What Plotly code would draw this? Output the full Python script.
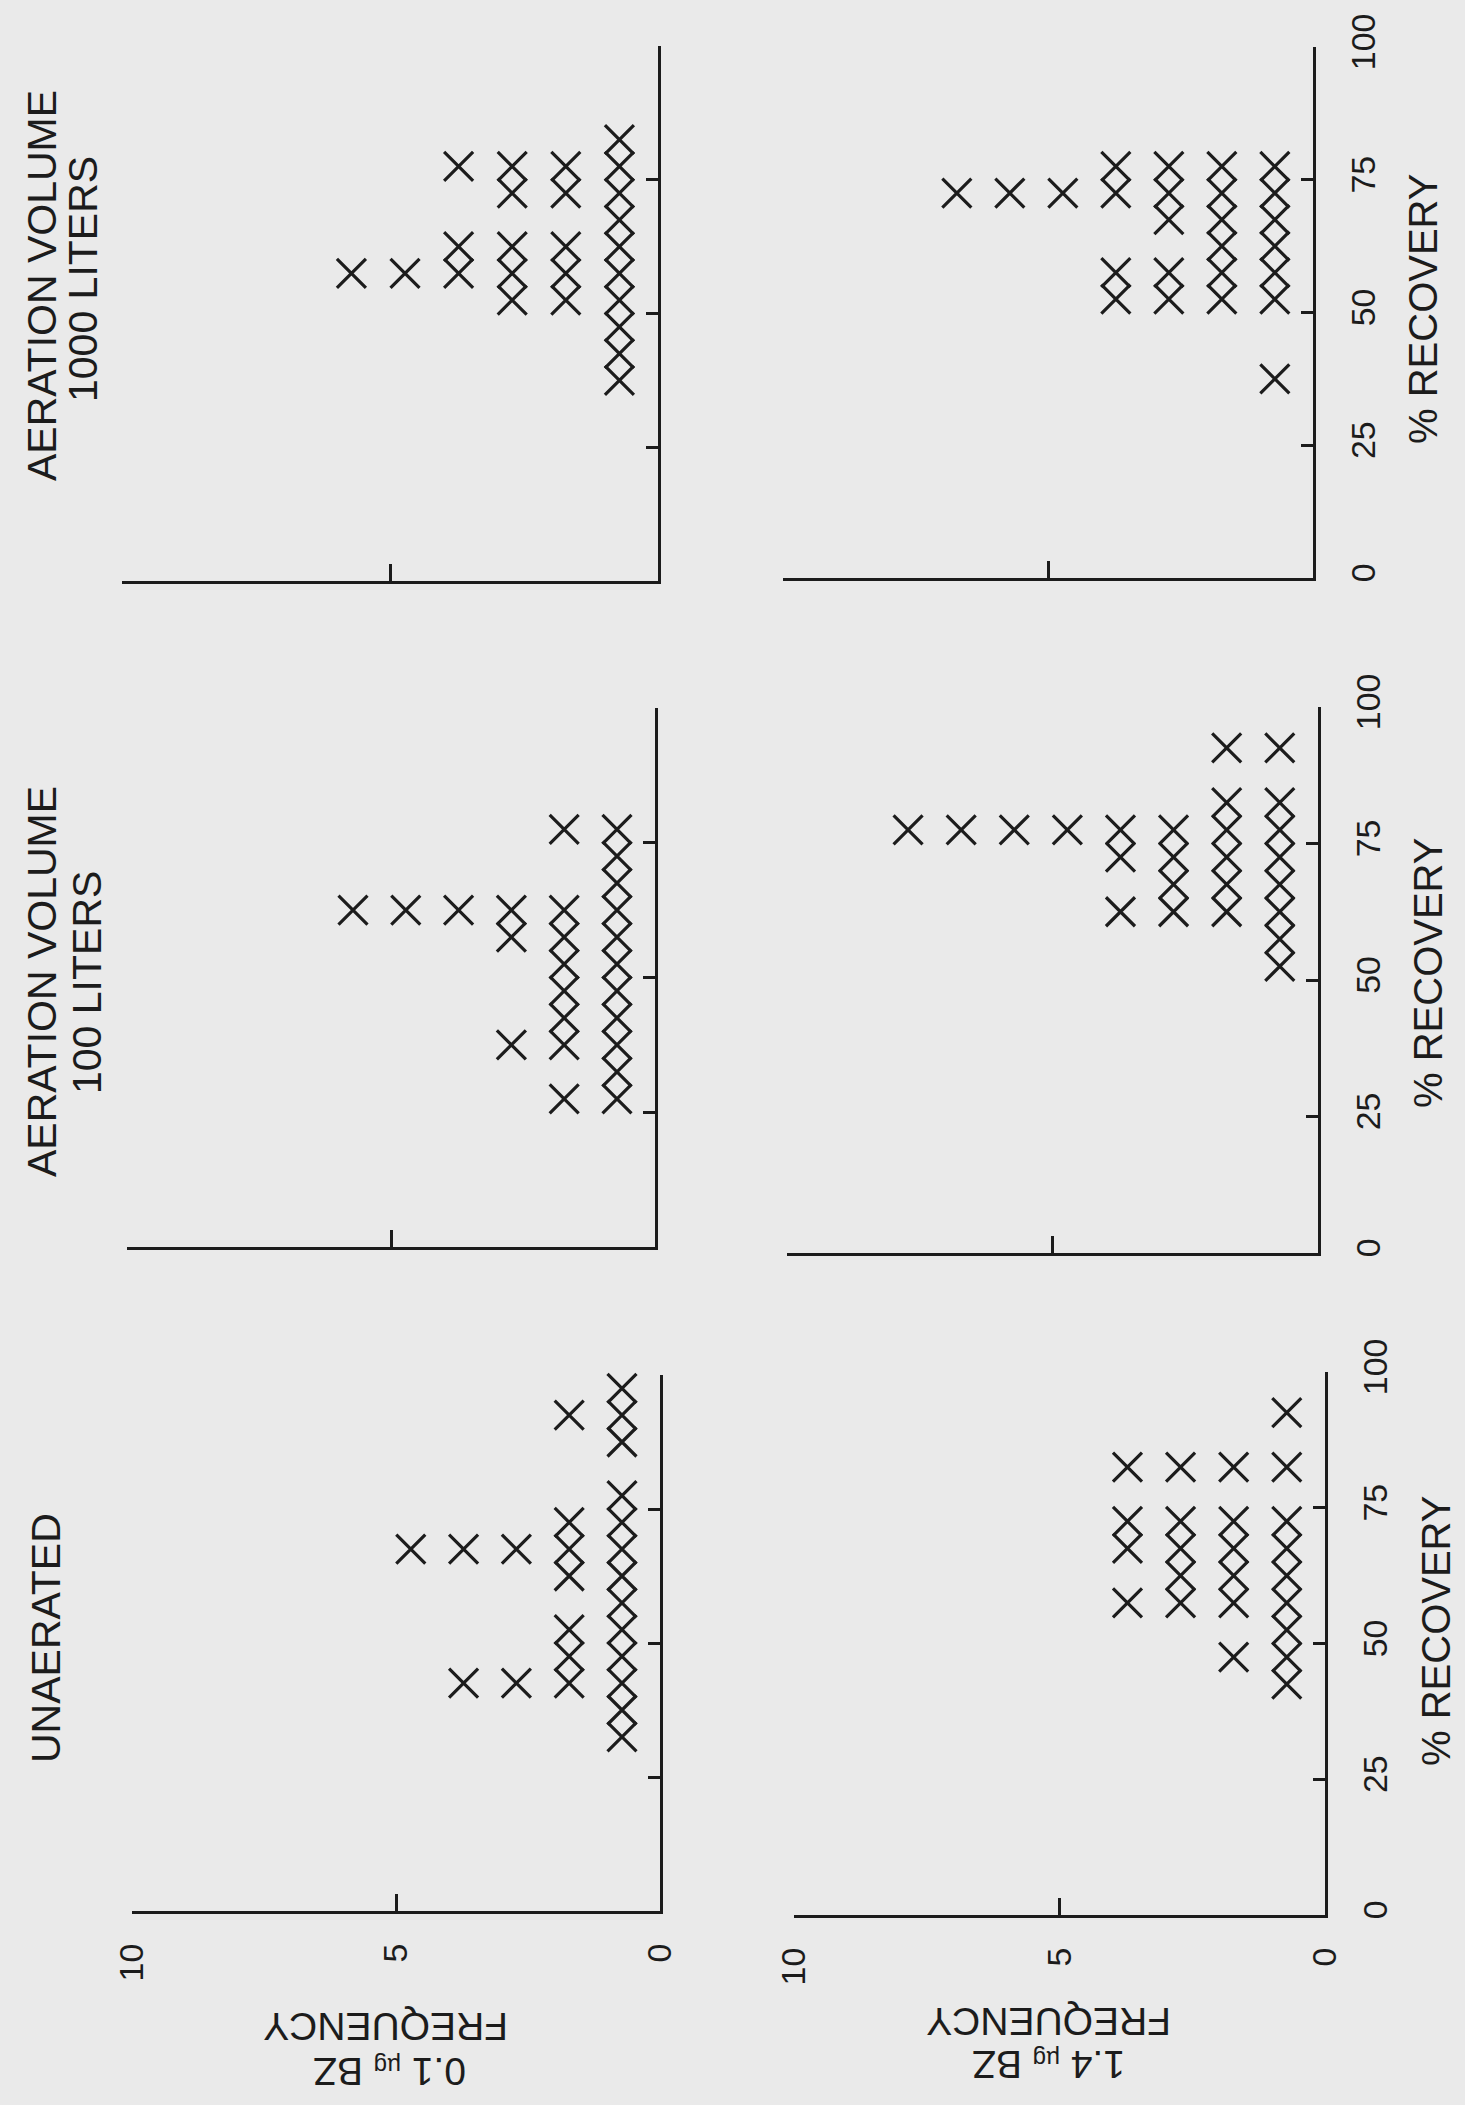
import plotly.graph_objects as go

# ---- data ----
recovery_bins = [27.5, 32.5, 37.5, 42.5, 47.5, 52.5, 57.5, 62.5, 67.5, 72.5, 77.5, 82.5, 87.5, 92.5, 97.5]
unaerated_01 = [0, 1, 1, 4, 2, 2, 1, 2, 5, 2, 1, 0, 1, 2, 1]
unaerated_14 = [0, 0, 0, 1, 2, 1, 4, 3, 4, 4, 0, 4, 0, 1, 0]
aer100_01 = [2, 1, 3, 2, 2, 2, 3, 6, 1, 1, 2, 0, 0, 0, 0]
aer100_14 = [0, 0, 0, 0, 0, 1, 1, 4, 3, 4, 8, 2, 0, 2, 0]
aer1000_01 = [0, 0, 1, 1, 1, 3, 6, 4, 1, 3, 4, 1, 0, 0, 0]
aer1000_14 = [0, 0, 1, 0, 0, 4, 4, 2, 3, 7, 4, 0, 0, 0, 0]

freq_ticks = [0, 5, 10]
recovery_ticks = [0, 25, 50, 75, 100]
row_titles = [["AERATION VOLUME", "1000 LITERS"], ["AERATION VOLUME", "100 LITERS"], ["UNAERATED"]]
x_title = "% RECOVERY"
freq_title = "FREQUENCY"
dose_labels = ["0.1", "1.4"]

W, H = 1465, 2105
INK = "#1c1c1c"
BG = "#eaeaea"
FONT = "Liberation Sans, Arial, sans-serif"

# panels: (counts, x-domain px, y-domain px (top,bottom), show freq labels, show recovery labels)
panels = [
    (aer1000_01, (122, 658), (46, 581), False, False),
    (aer1000_14, (783, 1313), (47, 578), False, True),
    (aer100_01, (127, 655), (708, 1247), False, False),
    (aer100_14, (787, 1318), (707, 1253), False, True),
    (unaerated_01, (132, 660), (1375, 1911), True, False),
    (unaerated_14, (794, 1325), (1372, 1915), True, True),
]

fig = go.Figure()
layout = {}
for i, (counts, (x0, x1), (yt, yb), showx, showy) in enumerate(panels, start=1):
    xs, ys = [], []
    for b, c in zip(recovery_bins, counts):
        for k in range(1, c + 1):
            xs.append(k - 0.28)
            ys.append(b)
    sfx = "" if i == 1 else str(i)
    fig.add_trace(go.Scatter(
        x=xs, y=ys, mode="markers", xaxis="x" + sfx, yaxis="y" + sfx,
        marker=dict(symbol="x-thin", size=29, color=INK, line=dict(color=INK, width=3.2)),
        showlegend=False, hoverinfo="skip", cliponaxis=False,
    ))
    layout["xaxis" + sfx] = dict(
        domain=[x0 / W, x1 / W], anchor="y" + sfx, range=[10, 0], side="bottom",
        tickvals=freq_ticks, ticktext=[str(v) for v in freq_ticks],
        ticks="inside", ticklen=17, tickwidth=3, tickcolor=INK,
        showline=True, linewidth=3, linecolor=INK, showgrid=False, zeroline=False,
        showticklabels=showx, tickangle=-90, ticklabelstandoff=16, automargin=False,
        tickfont=dict(family=FONT, size=34, color=INK), fixedrange=True,
    )
    layout["yaxis" + sfx] = dict(
        domain=[1 - yb / H, 1 - yt / H], anchor="x" + sfx, range=[0, 100], side="right",
        tickvals=recovery_ticks, ticktext=[str(v) for v in recovery_ticks],
        ticks="inside", ticklen=12, tickwidth=3, tickcolor=INK,
        showline=True, linewidth=3, linecolor=INK, showgrid=False, zeroline=False,
        showticklabels=showy, tickangle=-90, ticklabelstandoff=18, automargin=False,
        tickfont=dict(family=FONT, size=34, color=INK), fixedrange=True,
    )

ann = []
def add_text(text, x, y, angle, size):
    ann.append(dict(text=text, x=x / W, y=1 - y / H, xref="paper", yref="paper",
                    xanchor="center", yanchor="middle", showarrow=False, textangle=angle,
                    font=dict(family=FONT, size=size, color=INK)))

# row titles (left strip, rotated)
add_text(row_titles[0][0], 42, 286, -90, 41)
add_text(row_titles[0][1], 83, 279, -90, 41)
add_text(row_titles[1][0], 42, 982, -90, 41)
add_text(row_titles[1][1], 87, 983, -90, 41)
add_text(row_titles[2][0], 46, 1638, -90, 41)

# % RECOVERY labels (right strip)
add_text(x_title, 1423, 309, -90, 40)
add_text(x_title, 1428, 973, -90, 40)
add_text(x_title, 1436, 1631, -90, 40)

# frequency titles (upside down, bottom strip)
add_text(freq_title, 386, 2027, 180, 39)
add_text(dose_labels[0] + ' <span style="font-size:24px">µg</span> BZ', 390, 2072, 180, 39)
add_text(freq_title, 1049, 2022, 180, 39)
add_text(dose_labels[1] + ' <span style="font-size:24px">µg</span> BZ', 1049, 2065, 180, 39)

fig.update_layout(
    template="none", autosize=False,
    width=W, height=H, margin=dict(l=0, r=0, t=0, b=0, pad=0),
    paper_bgcolor=BG, plot_bgcolor=BG, annotations=ann, **layout,
)
fig.write_html(
    "out.html",
    config={"displayModeBar": False},
    post_script="document.body.style.margin='0px';document.body.style.background='%s';" % BG,
)
